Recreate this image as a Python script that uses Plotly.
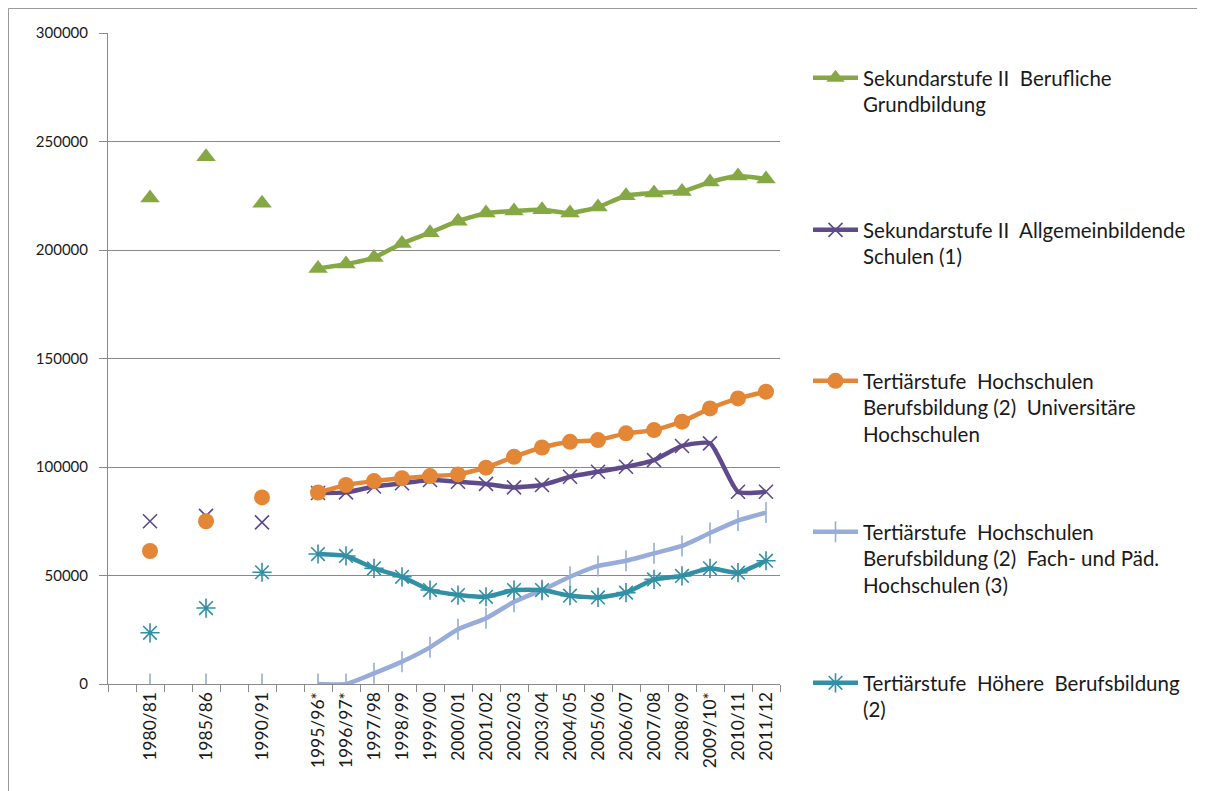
import plotly.graph_objects as go

categories = ["", "1980/81", "", "1985/86", "", "1990/91", "", "1995/96*", "1996/97*",
              "1997/98", "1998/99", "1999/00", "2000/01", "2001/02", "2002/03", "2003/04",
              "2004/05", "2005/06", "2006/07", "2007/08", "2008/09", "2009/10*", "2010/11", "2011/12"]

berufliche_grundbildung = [None, 224000, None, 243000, None, 221500, None, 191500, 193500,
                           196500, 203000, 208000, 213300, 217000, 218000, 218500,
                           217000, 219800, 225000, 226300, 227000, 231300, 234100, 232700]
allgemeinbildende = [None, 75000, None, 77500, None, 74500, None, 88000, 88300,
                     91000, 92500, 94000, 93200, 92200, 90600, 91700,
                     95500, 97800, 100100, 103200, 109700, 110900, 88600, 88600]
universitaere = [None, 61300, None, 75000, None, 86000, None, 88200, 91700,
                 93500, 94800, 95800, 96600, 99700, 104700, 109000,
                 111600, 112400, 115500, 117000, 120900, 127000, 131600, 134700]
fach_paed = [None, 0, None, 0, None, 0, None, 0, 0,
             4900, 10300, 16900, 25200, 30300, 37900, 43300,
             49400, 54400, 56800, 60200, 63600, 69600, 75300, 79000]
hoehere_bb = [None, 23600, None, 35000, None, 51500, None, 59900, 59000,
              53300, 49400, 43300, 41000, 40200, 43300, 43300,
              40700, 39900, 42100, 48200, 49800, 53300, 51300, 56800]

names = [
    "Sekundarstufe II  Berufliche<br>Grundbildung",
    "Sekundarstufe II  Allgemeinbildende<br>Schulen (1)",
    "Tertiärstufe  Hochschulen<br>Berufsbildung (2)  Universitäre<br>Hochschulen",
    "Tertiärstufe  Hochschulen<br>Berufsbildung (2)  Fach- und Päd.<br>Hochschulen (3)",
    "Tertiärstufe  Höhere  Berufsbildung<br>(2)",
]
series = [berufliche_grundbildung, allgemeinbildende, universitaere, fach_paed, hoehere_bb]
colors = ["#86A844", "#5F4A8B", "#E38636", "#98ACDA", "#3290A6"]
symbols = ["triangle-up", "x-thin", "circle", "line-ns", "asterisk"]
msizes = [17, 14, 16, 15, 16]

x = list(range(len(categories)))
tickvals = [i for i, c in enumerate(categories) if c]
ticktext = [c for c in categories if c]

fig = go.Figure()
legend_ids = ["legend", "legend2", "legend3", "legend4", "legend5"]
for i, (ys, nm, col, sym, ms) in enumerate(zip(series, names, colors, symbols, msizes)):
    if sym in ("x-thin", "line-ns", "asterisk"):
        marker = dict(symbol=sym, size=ms, color=col, line=dict(width=1.6, color=col))
    else:
        marker = dict(symbol=sym, size=ms, color=col, line=dict(width=0))
    fig.add_trace(go.Scatter(
        x=x, y=ys, name=nm, mode="lines+markers",
        line=dict(color=col, width=4.5, shape="spline", smoothing=0.5),
        marker=marker, connectgaps=False, legend=legend_ids[i],
    ))

# page has an 8px body margin; coordinates below are page pixels
OFF = 8
L, R, T, B = 108 - OFF, 780 - OFF, 33 - OFF, 684 - OFF
W, H = 1205 - OFF, 791 - OFF
pw, ph = R - L, B - T

def px2x(px):
    return (px - OFF - L) / pw

def py2y(py):
    return (B - (py - OFF)) / ph

legend_font = dict(family="Lato, Carlito, sans-serif", size=20.5, color="#1a1a1a")
legend_tops = [58, 210, 361, 512, 663]
layout_legends = {}
for lid, top in zip(legend_ids, legend_tops):
    layout_legends[lid] = dict(
        x=px2x(808), y=py2y(top), xanchor="left", yanchor="top",
        font=legend_font, valign="top", bgcolor="rgba(0,0,0,0)",
        itemwidth=45,
    )

fig.update_layout(
    width=W, height=H,
    margin=dict(l=L, r=W - R, t=T, b=H - B),
    paper_bgcolor="white", plot_bgcolor="white",
    showlegend=True,
    **layout_legends,
)

fig.update_xaxes(
    range=[-0.5, len(categories) - 0.5],
    tickmode="array", tickvals=tickvals, ticktext=ticktext,
    tickangle=-90, ticks="", showgrid=False, zeroline=False,
    showline=True, linecolor="#8a8a8a", linewidth=1,
    tickfont=dict(family="Lato, Carlito, sans-serif", size=17.5, color="#1a1a1a"),
    minor=dict(ticks="outside", tickmode="linear", tick0=-0.5, dtick=1,
               ticklen=7, tickcolor="#8a8a8a", showgrid=False),
)
fig.update_yaxes(
    range=[0, 300000], tickmode="linear", tick0=0, dtick=50000, tickformat="d",
    showgrid=True, gridcolor="#8a8a8a", gridwidth=1, zeroline=False,
    showline=True, linecolor="#8a8a8a", linewidth=1,
    ticks="outside", ticklen=8, tickcolor="#8a8a8a", ticklabelstandoff=8,
    tickfont=dict(family="Lato, Carlito, sans-serif", size=15, color="#1a1a1a"),
)

fig.add_shape(type="rect", xref="paper", yref="paper",
              x0=px2x(8.5), x1=px2x(1201.5), y0=py2y(805), y1=py2y(8.5),
              line=dict(color="#9a9a9a", width=1), fillcolor="rgba(0,0,0,0)", layer="below")

fig.write_html("out.html")
